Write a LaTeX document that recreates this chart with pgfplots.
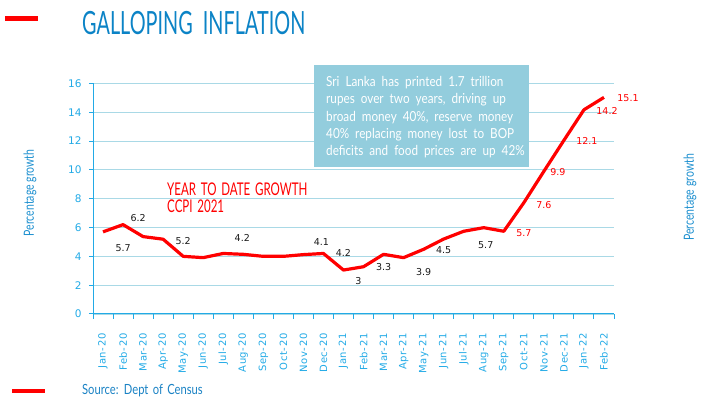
\documentclass[border=0pt]{standalone}
\usepackage{fontspec}
\usepackage{pgfplots}
\pgfplotsset{compat=1.18}
\setmainfont{DejaVu Sans}
\newfontfamily\dv{DejaVu Sans}
\newfontfamily\dvs[LetterSpace=6]{DejaVu Sans}
\newfontfamily\tfont[FakeStretch=0.62]{Lato}
\newfontfamily\cfont[FakeStretch=0.75]{Lato}
\newfontfamily\afont[FakeStretch=0.85, WordSpace=2.0]{Lato}
\newfontfamily\yfont[FakeStretch=0.66, WordSpace=1.6]{Lato}
\newfontfamily\sfont[FakeStretch=0.8, WordSpace=1.5]{Lato}
\definecolor{titleblue}{HTML}{0B83C6}
\definecolor{axisblue}{HTML}{22AAE6}
\definecolor{gridblue}{HTML}{A9D9E6}
\definecolor{boxblue}{HTML}{93CDDD}
\definecolor{ylabblue}{HTML}{1C8FCF}
\definecolor{srcblue}{HTML}{1A82C4}
\definecolor{lblack}{HTML}{1A1A1A}
\begin{document}
\begin{tikzpicture}[x=1pt,y=1pt]
\path[use as bounding box] (0,0) rectangle (720,406);
% decorations
\fill[red] (5,385.3) rectangle (37.7,390);
\fill[red] (11.7,12.7) rectangle (45,16.5);
\node[anchor=base west, inner sep=0, text=titleblue, font=\tfont\fontsize{32}{32}\selectfont] at (82,371) {GALLOPING\ \ INFLATION};
\node[anchor=base west, inner sep=0, text=srcblue, font=\sfont\fontsize{14}{14}\selectfont] at (82,11.5) {Source: Dept of Census};
\node[rotate=90, inner sep=0, text=ylabblue, font=\cfont\fontsize{14}{14}\selectfont] at (30,213) {Percentage growth};
\node[rotate=90, inner sep=0, text=ylabblue, font=\cfont\fontsize{14}{14}\selectfont] at (690,208.5) {Percentage growth};
\begin{axis}[
  at={(93pt,92pt)}, anchor=south west, scale only axis,
  width=521pt, height=230.6pt,
  xmin=-0.5, xmax=25.5, ymin=0, ymax=16,
  axis x line*=bottom, axis y line*=left,
  axis line style={draw=axisblue, line width=1pt},
  ytick={0,2,...,16},
  ymajorgrids, grid style={draw=gridblue, line width=0.9pt},
  tick align=outside,
  major tick length=4pt,
  minor tick length=5pt,
  y tick style={draw=axisblue, line width=1pt},
  major x tick style={draw=none},
  minor x tick style={draw=axisblue, line width=1pt},
  xtick={0,...,25},
  minor xtick={-0.5,0.5,...,25.5},
  xticklabels={Jan-20,Feb-20,Mar-20,Apr-20,May-20,Jun-20,Jul-20,Aug-20,Sep-20,Oct-20,Nov-20,Dec-20,Jan-21,Feb-21,Mar-21,Apr-21,May-21,Jun-21,Jul-21,Aug-21,Sep-21,Oct-21,Nov-21,Dec-21,Jan-22,Feb-22},
  xticklabel shift=12pt,
  xticklabel style={rotate=90, anchor=east, text=axisblue, font=\dvs\fontsize{10}{10}\selectfont},
  yticklabel style={text=axisblue, font=\dv\fontsize{10.5}{10}\selectfont, xshift=-4pt},
  /pgf/number format/assume math mode=true,
  clip=false,
]
\addplot[red, line width=3.2pt, line join=round] coordinates {
(0,5.7) (1,6.2) (2,5.37) (3,5.19) (4,4.0) (5,3.91) (6,4.2) (7,4.14) (8,4.0) (9,4.0) (10,4.12) (11,4.2)
(12,3.05) (13,3.28) (14,4.14) (15,3.91) (16,4.49) (17,5.2) (18,5.74) (19,5.99) (20,5.74) (21,7.72) (22,9.9) (23,12.05) (24,14.17) (25,15.03)
};
\begin{scope}[every node/.style={font=\dv\fontsize{9.5}{10}\selectfont, inner sep=0, text=lblack}]
\node at (axis cs:1.0,4.56) {5.7};
\node at (axis cs:1.75,6.65) {6.2};
\node at (axis cs:4.0,5.09) {5.2};
\node at (axis cs:6.95,5.3) {4.2};
\node at (axis cs:10.9,4.98) {4.1};
\node at (axis cs:12.0,4.21) {4.2};
\node at (axis cs:12.75,2.29) {3};
\node at (axis cs:14.0,3.24) {3.3};
\node at (axis cs:16.0,2.94) {3.9};
\node at (axis cs:17.0,4.44) {4.5};
\node at (axis cs:19.1,4.77) {5.7};
\end{scope}
\begin{scope}[every node/.style={font=\dv\fontsize{9.5}{10}\selectfont, inner sep=0, text=red}]
\node at (axis cs:21.0,5.6) {5.7};
\node at (axis cs:22.0,7.57) {7.6};
\node at (axis cs:22.7,9.86) {9.9};
\node at (axis cs:24.15,12.03) {12.1};
\node at (axis cs:25.15,14.1) {14.2};
\node at (axis cs:26.2,14.98) {15.1};
\end{scope}
\end{axis}
% annotation box
\fill[boxblue] (314,239.3) rectangle (529,341);
\begin{scope}[every node/.style={anchor=base west, inner sep=0, text=white, font=\afont\fontsize{13.8}{14}\selectfont}]
\node at (326,319.3) {Sri Lanka has printed 1.7 trillion};
\node at (326,302.1) {rupes over two years, driving up};
\node at (326,284.9) {broad money 40\%, reserve money};
\node at (326,267.7) {40\% replacing money lost to BOP};
\node at (326,250.5) {deficits and food prices are up 42\%};
\end{scope}
\begin{scope}[every node/.style={anchor=base west, inner sep=0, text=red, font=\yfont\fontsize{17.5}{18}\selectfont}]
\node at (167,210) {YEAR TO DATE GROWTH};
\node at (167,193) {CCPI 2021};
\end{scope}
\end{tikzpicture}
\end{document}
